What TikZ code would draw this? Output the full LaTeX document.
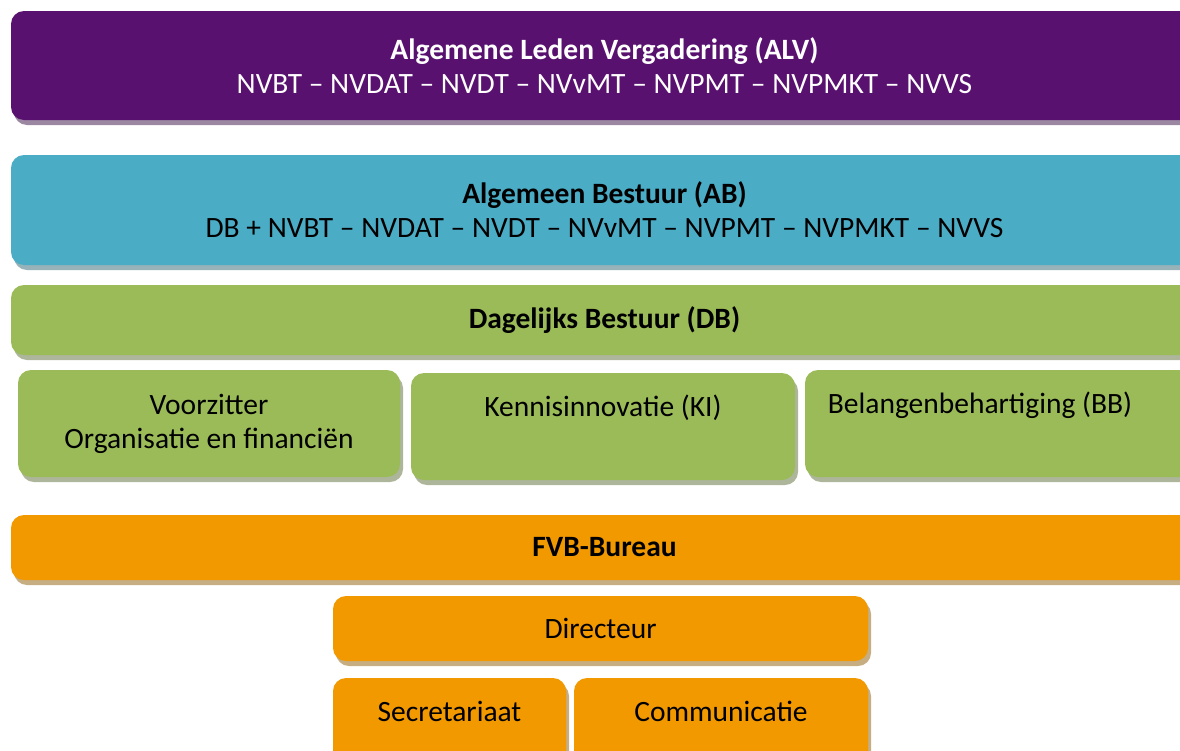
\documentclass[tikz,border=0pt]{standalone}
\usepackage{fontspec}
\setmainfont{Carlito}
\usetikzlibrary{shadows}

\definecolor{alvpaars}{HTML}{58116F}
\definecolor{abblauw}{HTML}{4BACC6}
\definecolor{dbgroen}{HTML}{9BBB59}
\definecolor{fvboranje}{HTML}{F29900}

\tikzset{
	blok/.style = {rectangle, rounded corners=13pt, inner sep=0pt, align=center,
		fill=#1, drop shadow={shadow xshift=3pt, shadow yshift=-5pt, fill=#1!40!gray!70!white, opacity=1}},
	balk/.style = {blok=#1, minimum width=1187pt},
}

\begin{document}
\begin{tikzpicture}[
					x = 1pt, y = -1pt,
					every node/.style = {font=\fontsize{29.5}{34}\selectfont}]

					\useasboundingbox (0,0) rectangle (1180,750);
					\clip (0,0) rectangle (1180,750);

					% bestuurslagen
					\node[balk=alvpaars, minimum height=109pt, text=white] (alv) at (604.5,65.5)
						{\textbf{Algemene Leden Vergadering (ALV)}\\NVBT -- NVDAT -- NVDT -- NVvMT -- NVPMT -- NVPMKT -- NVVS};
					\node[balk=abblauw, minimum height=110pt] (ab) at (604.5,210)
						{\textbf{Algemeen Bestuur (AB)}\\DB + NVBT -- NVDAT -- NVDT -- NVvMT -- NVPMT -- NVPMKT -- NVVS};
					\node[balk=dbgroen, minimum height=70pt] (db) at (604.5,320) {\textbf{Dagelijks Bestuur (DB)}};

					% portefeuilles DB
					\node[blok=dbgroen, minimum width=382pt, minimum height=107pt] (voorz) at (209,423.5)
						{Voorzitter\\Organisatie en financiën};
					\node[blok=dbgroen, minimum width=384pt, minimum height=107pt,
						label={[anchor=center, yshift=-35pt]north:Kennisinnovatie (KI)}] (ki) at (603,426.5) {};
					\node[blok=dbgroen, minimum width=393pt, minimum height=107pt,
						label={[anchor=center, yshift=-35pt, xshift=-21.5pt]north:Belangenbehartiging (BB)}] (bb) at (1001.5,423.5) {};

					% bureau
					\node[balk=fvboranje, minimum height=65pt] (fvb) at (604.5,547.5) {\textbf{FVB-Bureau}};
					\node[blok=fvboranje, minimum width=535pt, minimum height=65pt] (dir) at (600.5,628.5) {Directeur};
					\node[blok=fvboranje, minimum width=233pt, minimum height=90pt,
						label={[anchor=center, yshift=-34pt]north:Secretariaat}] (secr) at (449.5,723) {};
					\node[blok=fvboranje, minimum width=294pt, minimum height=90pt,
						label={[anchor=center, yshift=-34pt]north:Communicatie}] (comm) at (721,723) {};

				\end{tikzpicture}
\end{document}
